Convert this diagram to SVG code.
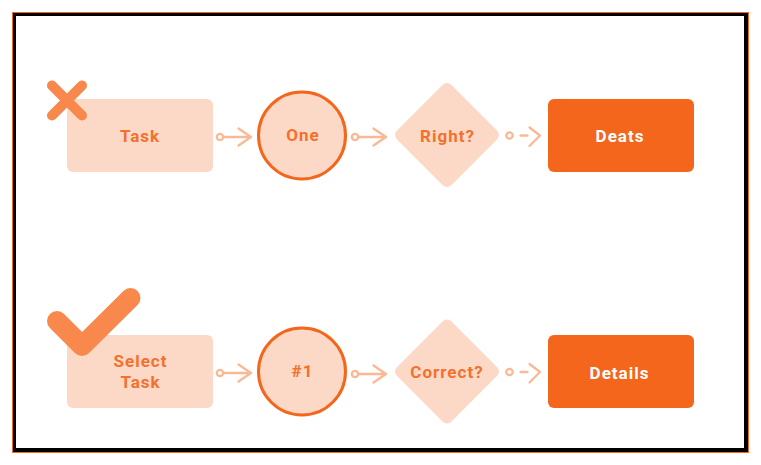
<svg xmlns="http://www.w3.org/2000/svg" width="761" height="465" viewBox="0 0 761 465">
<defs>
<style>
.lt{fill:#FBD9C6}
.dk{fill:#F4661C}
.t{font-family:Roboto,"Liberation Sans",sans-serif;font-weight:700;font-size:17px;letter-spacing:1px;text-anchor:middle}
.tl{fill:#F3702D}
.tw{fill:#FFFFFF}
.c{fill:none;stroke:#F9B995;stroke-width:2.3;stroke-linecap:round;stroke-linejoin:round}
.mk{fill:none;stroke:#F8884B;stroke-linecap:round;stroke-linejoin:round}
</style>
</defs>
<rect x="0" y="0" width="761" height="465" fill="#FFFFFF"/>
<g id="frame">
<rect x="12" y="12" width="737" height="441" fill="#F4661C"/>
<rect x="13" y="13" width="735" height="439" fill="#000000"/>
<rect x="16" y="16" width="728" height="432" fill="#FFFFFF"/>
</g>
<g id="connectors">
<circle class="c" cx="220" cy="137" r="3.2"/>
<path class="c" d="M223.5 137H251M238.5 128.5L251 137L238.5 145.5"/>
<circle class="c" cx="355" cy="137" r="3.2"/>
<path class="c" d="M358.5 137H386M373.5 128.5L386 137L373.5 145.5"/>
<circle class="c" cx="509.5" cy="135.5" r="3.2"/>
<path class="c" d="M520.5 135.5H527.5M529.5 127.5L540 135.5L529.5 146"/>
<circle class="c" cx="220" cy="373" r="3.2"/>
<path class="c" d="M223.5 373H251M238.5 364.5L251 373L238.5 381.5"/>
<circle class="c" cx="355" cy="374" r="3.2"/>
<path class="c" d="M358.5 374H386M373.5 365.5L386 374L373.5 382.5"/>
<circle class="c" cx="509.5" cy="372" r="3.2"/>
<path class="c" d="M520.5 372H527.5M529.5 364L540 372L529.5 382.5"/>
</g>
<g id="task">
<rect class="lt" x="67" y="99" width="146" height="73" rx="6"/>
<text class="t tl" x="140" y="142">Task</text>
</g>
<g id="wrong-mark">
<path class="mk" stroke-width="10" d="M52 85.5L82 115.5M82 85.5L52 115.5"/>
</g>
<g id="one">
<circle cx="302" cy="135.5" r="43.5" fill="#FBD9C6" stroke="#F4661C" stroke-width="3"/>
<text class="t tl" x="303" y="141">One</text>
</g>
<g id="right">
<rect class="lt" x="408.5" y="96.5" width="77" height="77" rx="6" transform="rotate(45 447 135)"/>
<text class="t tl" x="447.5" y="142">Right?</text>
</g>
<g id="deats">
<rect class="dk" x="548" y="99" width="146" height="73" rx="6"/>
<text class="t tw" x="620" y="142">Deats</text>
</g>
<g id="select-task">
<rect class="lt" x="67" y="335" width="146" height="73" rx="6"/>
<text class="t tl" x="140.5" y="366.5">Select</text>
<text class="t tl" x="140.5" y="387.5">Task</text>
</g>
<g id="right-mark">
<path class="mk" stroke-width="20" d="M57 321L82 346L130.5 298"/>
</g>
<g id="n1">
<circle cx="302" cy="371.5" r="43.5" fill="#FBD9C6" stroke="#F4661C" stroke-width="3"/>
<text class="t tl" x="302.5" y="377">#1</text>
</g>
<g id="correct">
<rect class="lt" x="408.5" y="333" width="77" height="77" rx="6" transform="rotate(45 447 371.5)"/>
<text class="t tl" x="447" y="377.5">Correct?</text>
</g>
<g id="details">
<rect class="dk" x="548" y="335" width="146" height="73" rx="6"/>
<text class="t tw" x="619.5" y="378.5">Details</text>
</g>
</svg>
